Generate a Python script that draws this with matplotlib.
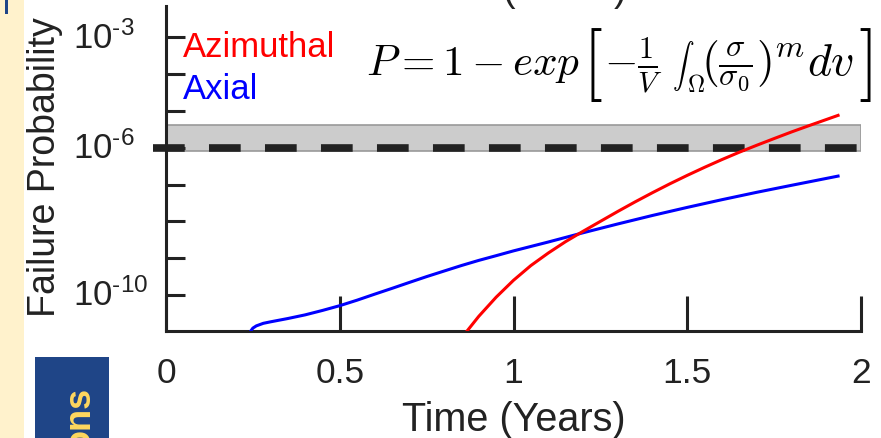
import numpy as np
import matplotlib
matplotlib.use("Agg")
import matplotlib.pyplot as plt
from matplotlib.patches import Rectangle
from matplotlib.ticker import FixedLocator, FixedFormatter, NullFormatter

plt.rcParams['font.family'] = ['Liberation Sans', 'DejaVu Sans']
plt.rcParams['mathtext.fontset'] = 'custom'
plt.rcParams['mathtext.rm'] = 'Liberation Sans'
plt.rcParams['mathtext.it'] = 'Liberation Sans:italic'
plt.rcParams['mathtext.bf'] = 'Liberation Sans:bold'
plt.rcParams['mathtext.sf'] = 'Liberation Sans'

# ---- data -------------------------------------------------------------
azimuthal_t = [0.862, 0.90, 0.95, 1.00, 1.05, 1.10, 1.15, 1.20, 1.25, 1.30, 1.35,
               1.40, 1.45, 1.50, 1.55, 1.60, 1.65, 1.70, 1.75, 1.80, 1.85, 1.934]
azimuthal_p = [9.33e-12, 2.63e-11, 8.71e-11, 2.51e-10, 6.31e-10, 1.38e-9, 2.82e-9,
               5.37e-9, 1.00e-8, 1.86e-8, 3.39e-8, 6.03e-8, 1.05e-7, 1.78e-7,
               2.95e-7, 4.79e-7, 7.59e-7, 1.17e-6, 1.78e-6, 2.69e-6, 3.98e-6, 7.59e-6]

axial_t = [0.24, 0.25, 0.26, 0.28, 0.30, 0.35, 0.40, 0.45, 0.50, 0.55, 0.60, 0.65,
           0.70, 0.75, 0.80, 0.85, 0.90, 0.95, 1.00, 1.10, 1.20, 1.30, 1.40, 1.50,
           1.60, 1.70, 1.80, 1.934]
axial_p = [9.33e-12, 1.26e-11, 1.45e-11, 1.70e-11, 1.86e-11, 2.29e-11, 2.88e-11,
           3.80e-11, 5.13e-11, 7.24e-11, 1.05e-10, 1.51e-10, 2.19e-10, 3.16e-10,
           4.47e-10, 6.31e-10, 8.71e-10, 1.17e-9, 1.58e-9, 2.75e-9, 4.90e-9,
           8.51e-9, 1.45e-8, 2.40e-8, 3.89e-8, 6.17e-8, 9.55e-8, 1.70e-7]

target_p = 1e-6
band_lo, band_hi = 8.0e-7, 4.2e-6

x_ticks = [0, 0.5, 1, 1.5, 2]
x_tick_labels = ['0', '0.5', '1', '1.5', '2']
y_ticks = [1e-10, 1e-9, 1e-8, 1e-7, 1e-6, 1e-5, 1e-4, 1e-3]
y_tick_labels = [r'$10^{\text{-10}}$', '', '', '', r'$10^{\text{-6}}$', '', '',
                 r'$10^{\text{-3}}$']

series_names = ['Azimuthal', 'Axial']
series_colors = ['#ff0000', '#0000ff']

# Weibull failure probability, typeset in pieces so the integral stays inline
eq_lhs = r'$P = 1 - exp$'
eq_open = r'$[$'
eq_scale = r'$-\frac{1}{V}$'
eq_int = r'$\int$'
eq_domain = r'$\Omega$'
eq_integrand = r'$(\frac{\sigma}{\sigma_0})^m dv$'
eq_close = r'$]$'

# ---- figure -----------------------------------------------------------
W, H = 881, 439
fig = plt.figure(figsize=(W / 100, H / 100), dpi=100)
fig.patch.set_facecolor('white')


def fx(px):
    return px / W


def fy(py):
    return 1 - py / H


ink = '#222222'

# poster surroundings
fig.patches.append(Rectangle((0, 0), fx(24), 1, transform=fig.transFigure,
                             facecolor='#FFF2CC', edgecolor='none', zorder=0))
fig.patches.append(Rectangle((fx(5), fy(15)), fx(3), 15 / H, transform=fig.transFigure,
                             facecolor='#1F4587', edgecolor='none', zorder=0))
fig.patches.append(Rectangle((fx(35), 0), fx(74), fy(358), transform=fig.transFigure,
                             facecolor='#1F4587', edgecolor='none', zorder=0))
fig.text(fx(90), fy(387), 'ons', rotation=90, rotation_mode='anchor', ha='right',
         va='baseline', color='#FFD75E', fontweight='bold', fontsize=26)
fig.text(fx(503), fy(1), '(', fontsize=27, va='baseline', ha='left', color=ink)
fig.text(fx(614), fy(1), ')', fontsize=27, va='baseline', ha='left', color=ink)

ax = fig.add_axes([fx(166), fy(331.7), (861 - 166) / W, (331.7 - 6.7) / H])
ax.set_facecolor('none')
ax.set_yscale('log')
ax.set_xlim(0, 2)
ax.set_ylim(10 ** -10.97, 10 ** -2.14)

for s in ['top', 'right']:
    ax.spines[s].set_visible(False)
for s in ['left', 'bottom']:
    ax.spines[s].set_color(ink)
    ax.spines[s].set_linewidth(2.2)

ax.set_xticks(x_ticks, x_tick_labels)
ax.tick_params(axis='x', direction='in', length=25, width=2.2, color=ink,
               pad=18.5, labelsize=25.5, labelcolor=ink)

ax.yaxis.set_major_locator(FixedLocator(y_ticks))
ax.yaxis.set_major_formatter(FixedFormatter(y_tick_labels))
ax.yaxis.set_minor_locator(FixedLocator([y_ticks[0]]))
ax.yaxis.set_minor_formatter(NullFormatter())
ax.tick_params(axis='y', which='major', direction='in', length=13.7, width=2.2,
               color=ink, pad=67.2, labelsize=25, labelcolor=ink)
ax.tick_params(axis='y', which='minor', direction='in', length=25, width=2.2, color=ink)
for lab in ax.get_yticklabels():
    lab.set_horizontalalignment('left')
    lab.set_verticalalignment('center')

# tolerance band and design threshold
ax.axhspan(band_lo, band_hi, facecolor='#cccccc', edgecolor='#999999', lw=1.2, zorder=1)
ax.plot([-0.0375, 2.0], [target_p, target_p], color=ink, lw=5.5,
        dashes=(4.15, 3.18), dash_capstyle='butt', clip_on=False, zorder=3)

# failure probability curves
ax.plot(axial_t, axial_p, color=series_colors[1], lw=2.2, zorder=4)
ax.plot(azimuthal_t, azimuthal_p, color=series_colors[0], lw=2.2, zorder=5)

fig.text(fx(183), fy(56.7), series_names[0], color=series_colors[0], fontsize=25,
         ha='left', va='baseline')
fig.text(fx(183), fy(99), series_names[1], color=series_colors[1], fontsize=25,
         ha='left', va='baseline')

# equation
eq_kw = dict(math_fontfamily='cm', color='black', ha='left')
fig.text(fx(366), fy(75), eq_lhs, fontsize=31, va='baseline', **eq_kw)
fig.text(fx(582), fy(65.5), eq_open, fontsize=52, va='center', **eq_kw)
fig.text(fx(604), fy(75), eq_scale, fontsize=31, va='baseline', **eq_kw)
fig.text(fx(672), fy(66), eq_int, fontsize=15.5, va='center', **eq_kw)
fig.text(fx(687), fy(92), eq_domain, fontsize=17, va='baseline', **eq_kw)
fig.text(fx(701), fy(75), eq_integrand, fontsize=33, va='baseline', **eq_kw)
fig.text(fx(858), fy(65.5), eq_close, fontsize=52, va='center', **eq_kw)

fig.text(fx(514), fy(431), 'Time (Years)', ha='center', va='baseline',
         fontsize=28.5, color=ink)
fig.text(fx(45), fy(167), 'Failure Probability', rotation=90, ha='center',
         va='center', fontsize=27, color=ink)

fig.savefig('out.png', dpi=100)
